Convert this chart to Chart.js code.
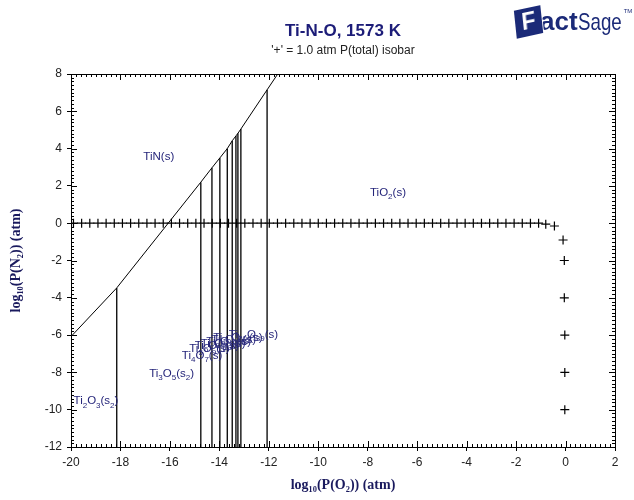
<!DOCTYPE html>
<html>
<head>
<meta charset="utf-8">
<script src="https://cdn.jsdelivr.net/npm/chart.js@4.4.1/dist/chart.umd.min.js"></script>
<style>
  body { margin: 0; background: #fff; }
  #wrap { position: relative; width: 634px; height: 500px; }
  #wrap canvas { position: absolute; left: 0; top: 0; }
  .head { position: absolute; left: 243px; width: 200px; text-align: center; font-family: Arial, "Liberation Sans", sans-serif; white-space: nowrap; }
  #title { top: 21px; font-size: 17px; font-weight: bold; color: #1c1c78; }
  #subtitle { top: 43px; font-size: 12px; color: #222; }
  #logo { position: absolute; left: 515px; top: 6px; font-family: Arial, "Liberation Sans", sans-serif; color: #1b2a78; white-space: nowrap; }
  #logo .fbox { display: inline-block; width: 27px; height: 27px; line-height: 27px; text-align: center; background: #1b2a78; color: #fff; font-weight: bold; font-size: 23px; transform: rotate(-12deg) skewX(-6deg); vertical-align: middle; }
  #logo .act { font-weight: bold; font-size: 26px; vertical-align: middle; margin-left: -2px; }
  #logo .sage { font-size: 24px; vertical-align: middle; display: inline-block; transform: scaleX(0.78); transform-origin: left; margin-right: -10px; }
  #logo sup { font-size: 6px; vertical-align: top; position: relative; top: 2px; }
</style>
</head>
<body>
<div id="wrap">
  <canvas id="chart" width="634" height="500"></canvas>
  <div class="head" id="title">Ti-N-O, 1573 K</div>
  <div class="head" id="subtitle">'+' = 1.0 atm P(total) isobar</div>
  <div id="logo"><span class="fbox">F</span><span class="act">act</span><span class="sage">Sage</span><sup>TM</sup></div>
</div>
<script>
// TiN / oxide boundary (log P(O2), log P(N2))
const boundaryX = [-20, -18.15, -14.75, -14.3, -13.98, -13.68, -13.48, -13.33, -13.25, -13.13, -12.07, -11.64];
const boundaryY = [-6.08, -3.47, 2.2, 2.97, 3.5, 4.0, 4.42, 4.68, 4.82, 5.05, 7.15, 8];

// oxide / oxide phase boundaries (vertical lines from the bottom up to the TiN boundary)
const phaseX = [-18.15, -14.75, -14.3, -13.98, -13.68, -13.48, -13.33, -13.25, -13.13, -12.07];
const phaseTop = [-3.47, 2.2, 2.97, 3.5, 4.0, 4.42, 4.68, 4.82, 5.05, 7.15];

// '+' markers of the 1 atm total pressure isobar
const isobarX = [-19.9, -19.57, -19.24, -18.91, -18.58, -18.25, -17.92, -17.59, -17.26, -16.93,
  -16.6, -16.27, -15.94, -15.61, -15.28, -14.95, -14.62, -14.29, -13.96, -13.63,
  -13.3, -12.97, -12.64, -12.31, -11.98, -11.65, -11.32, -10.99, -10.66, -10.33,
  -10.0, -9.67, -9.34, -9.01, -8.68, -8.35, -8.02, -7.69, -7.36, -7.03,
  -6.7, -6.37, -6.04, -5.71, -5.38, -5.05, -4.72, -4.39, -4.06, -3.73,
  -3.4, -3.07, -2.74, -2.41, -2.08, -1.75, -1.42, -1.09, -0.8, -0.45,
  -0.1, -0.05, -0.05, -0.03, -0.03, -0.03];
const isobarY = [0, 0, 0, 0, 0, 0, 0, 0, 0, 0,
  0, 0, 0, 0, 0, 0, 0, 0, 0, 0,
  0, 0, 0, 0, 0, 0, 0, 0, 0, 0,
  0, 0, 0, 0, 0, 0, 0, 0, 0, 0,
  0, 0, 0, 0, 0, 0, 0, 0, 0, 0,
  0, 0, 0, 0, 0, 0, 0, 0, -0.05, -0.15,
  -0.9, -2, -4, -6, -8, -10];

// phase field labels ("_n" = subscript)
const phaseLabels = ['TiN(s)', 'TiO_2(s)', 'Ti_3O_5(s_2)', 'Ti_2O_3(s_2)',
  'Ti_4O_7(s)', 'Ti_5O_9(s)', 'Ti_6O_11(s)', 'Ti_7O_13(s)', 'Ti_8O_15(s)', 'Ti_9O_17(s)', 'Ti_10O_19(s)', 'Ti_20O_39(s)'];
const labelX = [-16.45, -7.18, -15.93, -18.99, -14.7, -14.4, -14.1, -13.85, -13.62, -13.42, -13.25, -12.62];
const labelY = [3.57, 1.65, -8.05, -9.55, -7.1, -6.75, -6.58, -6.45, -6.34, -6.24, -6.15, -5.97];

const xTicks = [-20, -18, -16, -14, -12, -10, -8, -6, -4, -2, 0, 2];
const yTicks = [-12, -10, -8, -6, -4, -2, 0, 2, 4, 6, 8];

const navy = '#25257a';
const tickFont = { family: 'Arial, "Liberation Sans", sans-serif', size: 12 };

// vertical lines as one dataset with gaps
const phaseLines = [];
phaseX.forEach((x, i) => {
    phaseLines.push({ x: x, y: -12 }, { x: x, y: phaseTop[i] }, { x: x, y: null });
});

// frame with inward minor/major ticks on all four sides
const frameTicks = {
    id: 'frameTicks',
    afterDatasetsDraw(chart) {
        const { ctx, chartArea: a, scales: { x, y } } = chart;
        ctx.save();
        ctx.strokeStyle = '#000';
        ctx.lineWidth = 1;
        ctx.beginPath();
        for (let i = 0; i <= 110; i++) {
            const v = -20 + i * 0.2;
            const px = Math.round(x.getPixelForValue(v)) + 0.5;
            const len = (i % 10 === 0) ? 6 : 3;
            ctx.moveTo(px, a.bottom); ctx.lineTo(px, a.bottom - len);
            ctx.moveTo(px, a.top); ctx.lineTo(px, a.top + len);
        }
        for (let i = 0; i <= 100; i++) {
            const v = -12 + i * 0.2;
            const py = Math.round(y.getPixelForValue(v)) + 0.5;
            const len = (i % 10 === 0) ? 6 : 3;
            ctx.moveTo(a.left, py); ctx.lineTo(a.left + len, py);
            ctx.moveTo(a.right, py); ctx.lineTo(a.right - len, py);
        }
        ctx.stroke();
        ctx.strokeRect(Math.round(a.left) + 0.5, Math.round(a.top) + 0.5,
            Math.round(a.right - a.left), Math.round(a.bottom - a.top));
        ctx.restore();
    }
};

// text labels with subscripts, placed through the scales
const fieldLabels = {
    id: 'fieldLabels',
    afterDatasetsDraw(chart) {
        const { ctx, scales: { x, y } } = chart;
        const base = '11.5px Arial, "Liberation Sans", sans-serif';
        const sub = '8px Arial, "Liberation Sans", sans-serif';
        ctx.save();
        ctx.fillStyle = navy;
        ctx.textBaseline = 'middle';
        ctx.textAlign = 'left';
        phaseLabels.forEach((txt, i) => {
            const parts = txt.split(/_(\d+)/);
            let w = 0;
            parts.forEach((p, k) => { ctx.font = k % 2 ? sub : base; w += ctx.measureText(p).width; });
            let cx = x.getPixelForValue(labelX[i]) - w / 2;
            const cy = y.getPixelForValue(labelY[i]);
            parts.forEach((p, k) => {
                ctx.font = k % 2 ? sub : base;
                ctx.fillText(p, cx, k % 2 ? cy + 4 : cy);
                cx += ctx.measureText(p).width;
            });
        });
        ctx.restore();
    }
};

new Chart(document.getElementById('chart'), {
    type: 'scatter',
    data: {
        datasets: [
            {
                label: 'boundary',
                data: boundaryX.map((x, i) => ({ x: x, y: boundaryY[i] })),
                showLine: true, borderColor: '#000', borderWidth: 1, pointRadius: 0
            },
            {
                label: 'phases',
                data: phaseLines,
                showLine: true, spanGaps: false, borderColor: '#000', borderWidth: 1.3, pointRadius: 0
            },
            {
                label: 'isobar',
                data: isobarX.map((x, i) => ({ x: x, y: isobarY[i] })),
                showLine: false, pointStyle: 'cross', pointRadius: 4.5,
                borderColor: '#000', borderWidth: 1.2
            }
        ]
    },
    options: {
        responsive: false,
        animation: false,
        events: [],
        layout: { padding: { top: 74, left: 0, right: 19, bottom: 0 } },
        plugins: { legend: { display: false }, tooltip: { enabled: false } },
        scales: {
            x: {
                type: 'linear', min: -20, max: 2,
                afterBuildTicks: s => { s.ticks = xTicks.map(v => ({ value: v })); },
                afterFit: s => { s.height = 53; },
                grid: { drawOnChartArea: false, drawTicks: true, tickLength: 4, color: '#000' },
                border: { display: false },
                ticks: { color: '#222', font: tickFont, padding: 4, maxRotation: 0 },
                title: {
                    display: true, text: 'log\u2081\u2080(P(O\u2082)) (atm)', color: '#1a1a5e',
                    font: { family: '"Liberation Serif", "Times New Roman", serif', size: 14, weight: 'bold' },
                    padding: { top: 0, bottom: 6 }
                }
            },
            y: {
                type: 'linear', min: -12, max: 8,
                afterBuildTicks: s => { s.ticks = yTicks.map(v => ({ value: v })); },
                afterFit: s => { s.width = 71; },
                grid: { drawOnChartArea: false, drawTicks: true, tickLength: 4, color: '#000' },
                border: { display: false },
                ticks: { color: '#222', font: tickFont, padding: 5 },
                title: {
                    display: true, text: 'log\u2081\u2080(P(N\u2082)) (atm)', color: '#1a1a5e',
                    font: { family: '"Liberation Serif", "Times New Roman", serif', size: 14, weight: 'bold' },
                    padding: { top: 8, bottom: 0 }
                }
            }
        }
    },
    plugins: [frameTicks, fieldLabels]
});
</script>
</body>
</html>
